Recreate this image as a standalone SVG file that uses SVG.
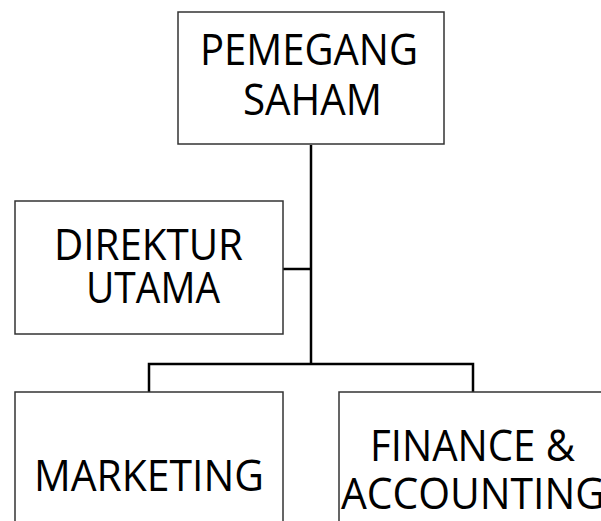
<svg xmlns="http://www.w3.org/2000/svg" width="601" height="521" viewBox="0 0 601 521">
<style>
.box{fill:#fff;stroke:#333;stroke-width:1.5}
.lbl{font-family:"Open Sans","Liberation Sans",sans-serif;font-size:43px;fill:#000}
.con{fill:none;stroke:#000;stroke-width:2.5}
</style>
<rect width="601" height="521" fill="#fff"/>
<g id="connectors">
<path class="con" d="M311 145 V364"/>
<path class="con" d="M283 269 H311"/>
<path class="con" d="M149 392 V364 H473 V392"/>
</g>
<g id="pemegang">
<rect class="box" x="178" y="12" width="266" height="132"/>
<text class="lbl" x="200" y="65" textLength="218" lengthAdjust="spacingAndGlyphs">PEMEGANG</text>
<text class="lbl" x="243" y="115" textLength="139" lengthAdjust="spacingAndGlyphs">SAHAM</text>
</g>
<g id="direktur">
<rect class="box" x="15" y="201" width="268" height="133"/>
<text class="lbl" x="54" y="260" textLength="189" lengthAdjust="spacingAndGlyphs">DIREKTUR</text>
<text class="lbl" x="86" y="303" textLength="134" lengthAdjust="spacingAndGlyphs">UTAMA</text>
</g>
<g id="marketing">
<rect class="box" x="15" y="392" width="268" height="140"/>
<text class="lbl" x="34" y="491" textLength="230" lengthAdjust="spacingAndGlyphs">MARKETING</text>
</g>
<g id="finance">
<rect class="box" x="339" y="392" width="280" height="140"/>
<text class="lbl" x="370" y="461" textLength="205" lengthAdjust="spacingAndGlyphs">FINANCE &amp;</text>
<text class="lbl" x="341" y="509" textLength="264" lengthAdjust="spacingAndGlyphs">ACCOUNTING</text>
</g>
</svg>
